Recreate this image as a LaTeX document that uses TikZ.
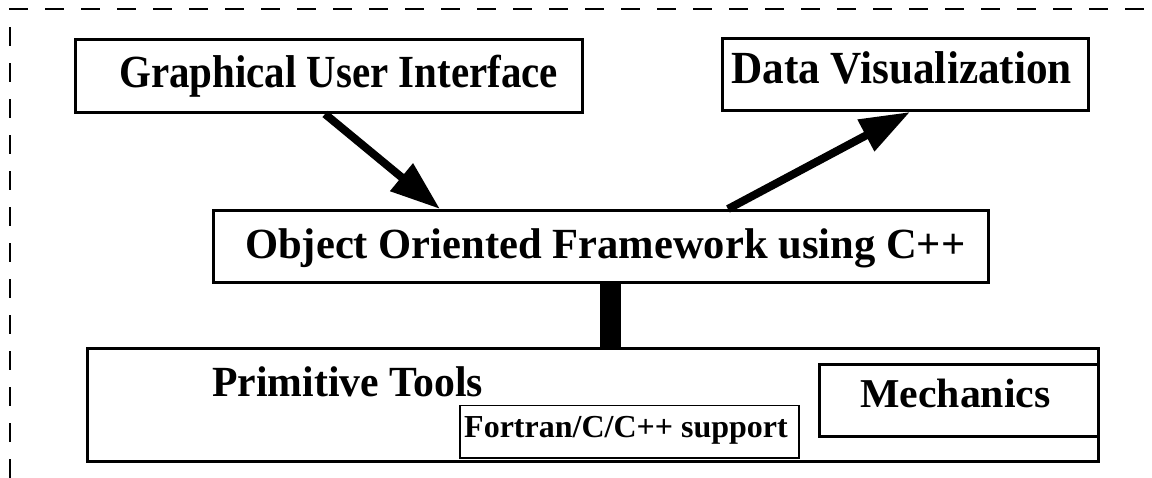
\documentclass[tikz,border=0pt]{standalone}
\usepackage{fontspec}
\setmainfont{Liberation Serif}
\usetikzlibrary{arrows.meta}
\begin{document}
\begin{tikzpicture}[x=1pt,y=-1pt,
  box/.style={draw, line width=3pt, inner sep=0pt, anchor=north west},
  thinbox/.style={box, line width=1.5pt},
  lbl/.style={anchor=base west, inner sep=0pt},
  flow/.style={line width=8pt, -{Triangle[length=50pt,width=34pt]}},
  frameline/.style={line width=1.5pt, dash pattern=on 19pt off 17pt}]
\useasboundingbox (0,0) rectangle (1152,478);

% dashed frame (top and left sides only)
\coordinate (fcorner) at (10,9);
\coordinate (ftop) at (1152,9);
\coordinate (fbottom) at (10,478);
\draw[frameline] (fbottom) -- (fcorner) -- (ftop);

% boxes
\node[box, minimum width=507pt, minimum height=73pt] (gui) at (74,38) {};
\node[box, minimum width=366pt, minimum height=72pt] (dv) at (721,37) {};
\node[box, minimum width=775pt, minimum height=72pt] (oof) at (212,209) {};
\node[box, minimum width=1011pt, minimum height=113pt] (prim) at (86,347) {};
\node[box, minimum width=279pt, minimum height=72pt] (mech) at (818,363) {};
\node[thinbox, minimum width=339pt, minimum height=52pt] (fort) at (459,405) {};

% labels
\node[lbl, font=\fontsize{46}{54}\selectfont\bfseries] (guitext) at (119,88) {\scalebox{0.89}[1]{Graphical User Interface}};
\node[lbl, font=\fontsize{46}{54}\selectfont\bfseries] (dvtext) at (731,84) {\scalebox{0.94}[1]{Data Visualization}};
\node[lbl, font=\fontsize{43}{50}\selectfont\bfseries] (ooftext) at (245,259) {\scalebox{0.99}[1]{Object Oriented Framework using C++}};
\node[lbl, font=\fontsize{43}{50}\selectfont\bfseries] (primtext) at (212,397) {\scalebox{0.97}[1]{Primitive Tools}};
\node[lbl, font=\fontsize{41}{48}\selectfont\bfseries] (mechtext) at (860,407) {\scalebox{1.02}[1]{Mechanics}};
\node[lbl, font=\fontsize{32}{38}\selectfont\bfseries] (forttext) at (464,437) {Fortran/C/C++ support};

% connectors
\draw[flow] ([xshift=251pt]gui.south west) -- ([xshift=228pt]oof.north west);
\draw[flow] ([xshift=516pt]oof.north west) -- ([xshift=189pt]dv.south west);
\draw[line width=21pt] ([xshift=398.5pt]oof.south west) -- ([xshift=398.5pt]oof.south west |- prim.north);
\end{tikzpicture}
\end{document}
